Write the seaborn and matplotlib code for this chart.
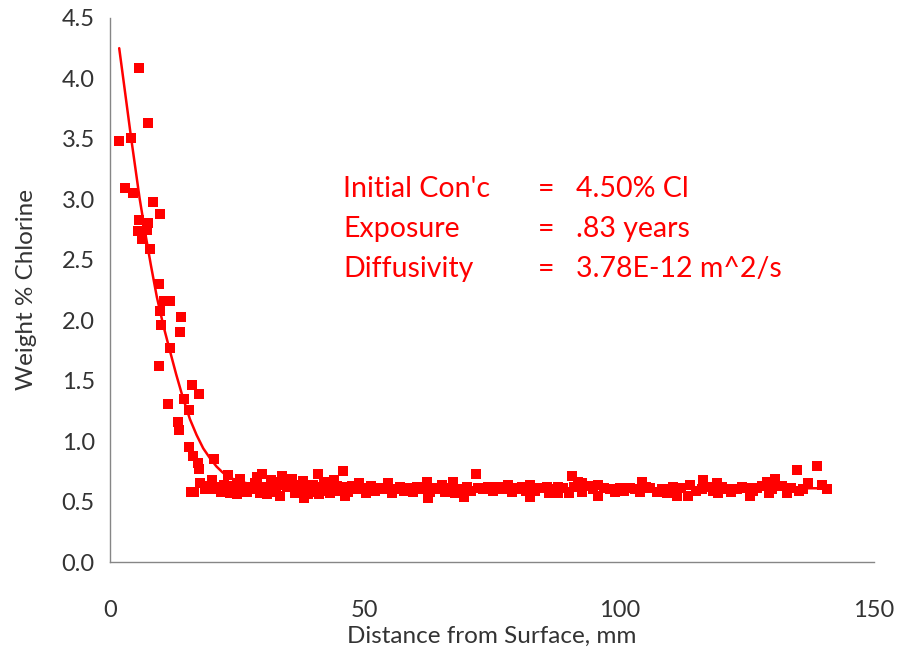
import matplotlib
matplotlib.use("Agg")
import matplotlib.pyplot as plt
import seaborn as sns
import pandas as pd
from matplotlib.ticker import MultipleLocator

# Dati: profilo di cloruri (punti misurati)
dist_ripida = [1.85, 2.9, 4.06, 4.6, 5.69, 7.5, 8.4, 9.9, 5.75, 7.5, 5.57, 7.2, 6.35, 7.85,
               9.7, 10.5, 11.8, 9.8, 10.1, 13.9, 13.7, 11.8, 9.7, 16.0, 17.5, 14.5, 11.3,
               15.6, 13.4, 13.6, 15.6, 16.2, 17.2, 17.4, 20.5]
cl_ripida = [3.48, 3.09, 3.51, 3.05, 4.09, 3.63, 2.98, 2.88, 2.83, 2.80, 2.74, 2.75, 2.67, 2.59,
             2.30, 2.16, 2.16, 2.08, 1.96, 2.03, 1.90, 1.77, 1.62, 1.46, 1.39, 1.35, 1.31,
             1.26, 1.16, 1.09, 0.95, 0.88, 0.82, 0.77, 0.85]

dist_base = [16.4, 15.8, 17.7, 18.6, 19.2, 20.0, 20.3, 21.2, 21.8, 22.3, 23.2, 23.6, 24.4, 24.9,
             25.0, 25.5, 26.2, 26.9, 27.5, 27.9, 28.4, 28.9, 29.5, 29.8, 30.5, 30.9, 31.4, 31.7,
             32.5, 32.9, 33.4, 33.7, 34.2, 34.7, 35.2, 35.7, 36.0, 36.3, 36.9, 37.4, 37.8, 38.0,
             38.6, 38.9, 39.2, 39.8, 40.6, 40.9, 41.1, 41.5, 42.0, 42.5, 43.2, 43.8, 44.0, 44.5,
             45.1, 45.8, 45.8, 46.2, 46.8, 47.5, 48.2, 48.8, 49.6, 50.3, 50.4, 51.2, 52.1, 53.0,
             53.8, 54.6, 55.3, 56.1, 56.9, 57.7, 58.6, 59.4, 60.2, 61.0, 62.2, 62.5, 62.9, 63.8,
             64.5, 65.1, 65.7, 66.5, 67.4, 67.8, 68.6, 69.4, 70.1, 70.9, 71.9, 72.3, 73.2, 74.3,
             75.2, 76.2, 77.1, 78.2, 78.9, 79.2, 80.1, 80.9, 81.7, 82.5, 82.5, 83.4, 84.5, 85.7,
             86.1, 87.0, 88.0, 88.0, 89.0, 90.2, 90.7, 91.0, 91.8, 92.6, 92.6, 93.9, 94.8, 95.9,
             95.9, 96.9, 98.2, 99.1, 100.1, 101.0, 102.1, 103.0, 104.1, 104.4, 105.2, 106.0,
             107.3, 108.3, 109.3, 110.0, 110.6, 111.3, 112.2, 113.5, 113.9, 115.0, 116.2, 116.5,
             117.6, 118.3, 119.1, 119.4, 120.2, 121.1, 122.0, 123.1, 124.0, 125.0, 125.7, 126.3,
             127.0, 128.0, 128.9, 129.3, 130.0, 130.6, 131.9, 132.9, 133.8, 134.8, 135.3, 136.1,
             137.1, 138.8, 139.7, 140.7]
cl_base = [0.58, 0.58, 0.65, 0.60, 0.63, 0.68, 0.60, 0.62, 0.58, 0.64, 0.72, 0.57, 0.63, 0.56,
           0.65, 0.69, 0.61, 0.58, 0.62, 0.60, 0.65, 0.70, 0.57, 0.73, 0.62, 0.56, 0.61, 0.68,
           0.58, 0.66, 0.55, 0.71, 0.64, 0.62, 0.66, 0.69, 0.64, 0.57, 0.62, 0.60, 0.67, 0.53,
           0.62, 0.56, 0.58, 0.64, 0.62, 0.73, 0.56, 0.59, 0.66, 0.65, 0.57, 0.61, 0.68, 0.63,
           0.59, 0.75, 0.62, 0.55, 0.58, 0.63, 0.60, 0.65, 0.60, 0.57, 0.61, 0.63, 0.59, 0.61,
           0.60, 0.65, 0.57, 0.60, 0.62, 0.59, 0.61, 0.58, 0.62, 0.60, 0.66, 0.53, 0.58, 0.61,
           0.60, 0.64, 0.58, 0.61, 0.66, 0.57, 0.60, 0.54, 0.62, 0.59, 0.73, 0.61, 0.60, 0.62,
           0.59, 0.62, 0.60, 0.64, 0.58, 0.61, 0.60, 0.62, 0.59, 0.64, 0.54, 0.59, 0.61, 0.62,
           0.57, 0.60, 0.62, 0.57, 0.61, 0.57, 0.71, 0.62, 0.66, 0.65, 0.58, 0.63, 0.60, 0.64,
           0.55, 0.61, 0.60, 0.58, 0.61, 0.59, 0.61, 0.60, 0.58, 0.66, 0.62, 0.61,
           0.58, 0.60, 0.57, 0.60, 0.62, 0.55, 0.61, 0.55, 0.64, 0.59, 0.60, 0.68,
           0.62, 0.59, 0.65, 0.57, 0.62, 0.60, 0.58, 0.60, 0.62, 0.61, 0.55, 0.59,
           0.61, 0.63, 0.66, 0.57, 0.60, 0.69, 0.63, 0.57, 0.61, 0.76, 0.59, 0.60,
           0.65, 0.79, 0.64, 0.60]

# Curva di fit
dist_fit = [1.8, 3.0, 4.1, 5.0, 5.8, 7.0, 8.0, 9.2, 10.5, 11.8, 13.0, 14.3, 15.7, 17.0, 18.3,
            19.6, 20.9, 22.0, 23.0, 25.0, 28.0, 32.0, 38.0, 140.5]
cl_fit = [4.25, 3.87, 3.52, 3.25, 3.01, 2.70, 2.46, 2.19, 1.95, 1.74, 1.55, 1.36, 1.18, 1.05,
          0.94, 0.86, 0.79, 0.745, 0.71, 0.67, 0.64, 0.62, 0.61, 0.61]

etichette = ["Initial Con'c", "Exposure", "Diffusivity"]
valori = ["4.50% Cl", ".83 years", "3.78E-12 m^2/s"]

punti = pd.DataFrame({"dist": dist_ripida + dist_base, "cl": cl_ripida + cl_base})
fit = pd.DataFrame({"dist": dist_fit, "cl": cl_fit})

sns.set_style("white")
plt.rcParams['font.family'] = ['Lato', 'DejaVu Sans']

fig = plt.figure(figsize=(8.99, 6.51), dpi=100)
ax = fig.add_axes([0.1224, 0.1367, 0.8498, 0.8357])

rosso = "#ff0000"
sns.lineplot(data=fit, x="dist", y="cl", ax=ax, color=rosso, linewidth=1.8,
             sort=False, estimator=None)
sns.scatterplot(data=punti, x="dist", y="cl", ax=ax, color=rosso, marker="s",
                s=52, linewidth=0, zorder=3)

ax.set_xlim(0, 150)
ax.set_ylim(0, 4.5)
ax.xaxis.set_major_locator(MultipleLocator(50))
ax.xaxis.set_minor_locator(MultipleLocator(10))
ax.yaxis.set_major_locator(MultipleLocator(0.5))
ax.yaxis.set_major_formatter(matplotlib.ticker.FormatStrFormatter('%.1f'))

grigio = "#868686"
for lato in ["top", "right"]:
    ax.spines[lato].set_visible(False)
for lato in ["left", "bottom"]:
    ax.spines[lato].set_color(grigio)
    ax.spines[lato].set_linewidth(1.0)

ax.tick_params(axis="both", which="both", direction="out", color=grigio,
               labelsize=17, labelcolor="#333333")
ax.tick_params(axis="y", length=5, width=1, pad=6)
ax.tick_params(axis="x", which="both", length=7, width=1, pad=20)

ax.set_xlabel("Distance from Surface, mm", fontsize=17.5, color="#333333", labelpad=4)
ax.set_ylabel("Weight % Chlorine", fontsize=17.5, color="#333333", labelpad=18)

righe_y = [0.6857, 0.612, 0.5386]
for et, val, yy in zip(etichette, valori, righe_y):
    ax.text(0.305, yy, et, transform=ax.transAxes, color=rosso, fontsize=20.5, va="center")
    ax.text(0.560, yy, "=", transform=ax.transAxes, color=rosso, fontsize=20.5, va="center")
    ax.text(0.610, yy, val, transform=ax.transAxes, color=rosso, fontsize=20.5, va="center")

fig.savefig("out.png", dpi=100)
